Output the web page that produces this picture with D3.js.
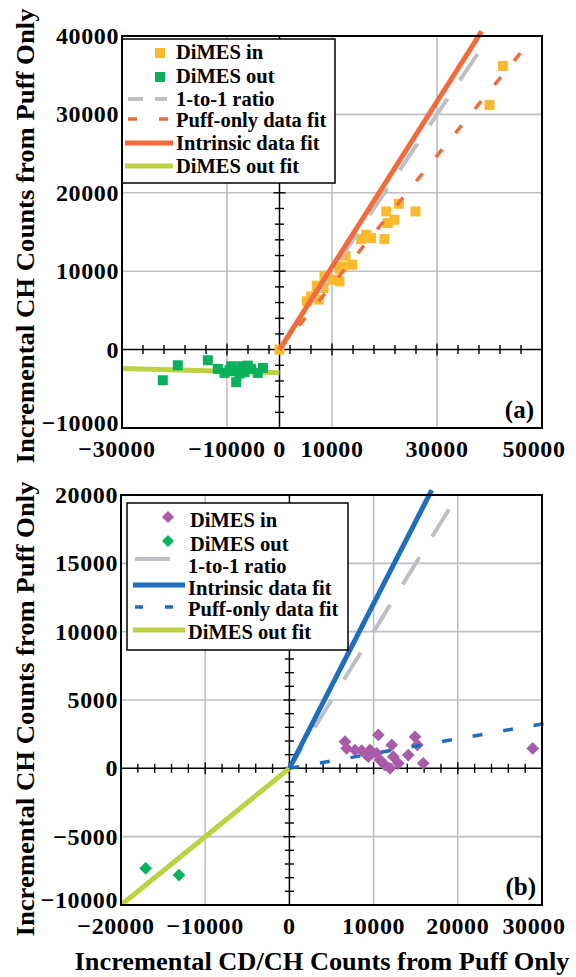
<!DOCTYPE html>
<html>
<head>
<meta charset="UTF-8" />
<script src="https://cdn.jsdelivr.net/npm/d3@7"></script>
<style>
  body { margin: 0; background: #fff; }
  svg text { font-family: "Liberation Serif", "Times New Roman", serif; font-weight: bold; fill: #000; }
</style>
</head>
<body>
<div id="chart"></div>
<script>
// ---- panel (a) data ----
const dimesInA = [[0, 0], [5200, 6160], [6030, 6790], [7490, 6370], [7110, 8150], [8380, 7860],
  [8570, 9340], [10100, 8920], [11430, 8700], [11430, 10320], [12060, 10610], [13900, 10830],
  [12570, 11970], [15560, 14100], [16510, 14650], [17460, 14230], [20000, 14100], [20630, 16140],
  [21900, 16560], [20320, 17620], [22730, 18600], [25900, 17620], [40000, 31210], [42540, 36180]];
const dimesOutA = [[-22230, -3910], [-19370, -2000], [-13650, -1360], [-11750, -2460], [-10480, -2970],
  [-9520, -2630], [-9200, -2120], [-8570, -2760], [-8250, -4160], [-7620, -3060], [-7300, -2120],
  [-6670, -2890], [-6030, -2040], [-5400, -2460], [-4130, -2970], [-3170, -2340]];
const oneToOneA = [[0, 0], [40000, 40000]];
const puffFitA = [[0, 0], [48400, 39900]];
const intrinsicFitA = [[0, 0], [38500, 40600]];
const outFitA = [[-30000, -2400], [0, -2950]];
const xTicksA = [-30000, -10000, 0, 10000, 30000, 50000];
const xGridA = [-10000, 10000, 30000];
const yTicksA = [-10000, 0, 10000, 20000, 30000, 40000];
const yGridA = [10000, 20000, 30000];

// ---- panel (b) data ----
const dimesInB = [[6600, 1950], [6800, 1460], [7790, 1340], [8580, 1290], [9570, 1340], [9370, 850],
  [10370, 1100], [10560, 2440], [10760, 610], [11350, 240], [11950, 0], [12150, 1710], [12340, 850],
  [12940, 370], [14120, 970], [14920, 2310], [15190, 1710], [15900, 370], [28900, 1460]];
const dimesOutB = [[-17070, -7320], [-13110, -7810]];
const oneToOneB = [[0, 0], [20000, 20000]];
const intrinsicFitB = [[0, 0], [16900, 20360]];
const puffFitB = [[0, 0], [30500, 3300]];
const outFitB = [[-20000, -10000], [0, 0]];
const xTicksB = [-20000, -10000, 0, 10000, 20000, 30000];
const xGridB = [-10000, 10000, 20000];
const yTicksB = [-10000, -5000, 0, 5000, 10000, 15000, 20000];
const yGridB = [-5000, 5000, 10000, 15000];

const C = {
  yellow: "#FBBA2D", green: "#0BB05C", orange: "#F26B3B", lime: "#BDD143",
  gray: "#BCC0C5", purple: "#A95BA9", blue: "#1F6DBF"
};

const svg = d3.select("#chart").append("svg")
  .attr("width", 576).attr("height", 977);

const fmt = d => d < 0 ? "\u2212" + Math.abs(d) : String(d);

function drawPanel(p) {
  const g = svg.append("g");
  const [x0, x1] = p.x.range(), [y0, y1] = p.y.range();  // y0 bottom, y1 top
  const line = d3.line().x(d => p.x(d[0])).y(d => p.y(d[1]));

  // grid
  g.selectAll(".gx").data(p.xGrid).join("line")
    .attr("x1", d => p.x(d)).attr("x2", d => p.x(d)).attr("y1", y1).attr("y2", y0)
    .attr("stroke", C.gray).attr("stroke-width", 1.6);
  g.selectAll(".gy").data(p.yGrid).join("line")
    .attr("y1", d => p.y(d)).attr("y2", d => p.y(d)).attr("x1", x0).attr("x2", x1)
    .attr("stroke", C.gray).attr("stroke-width", 1.6);

  // zero axes with crossing ticks
  const zx = p.x(0), zy = p.y(0);
  g.append("line").attr("x1", x0).attr("x2", x1).attr("y1", zy).attr("y2", zy)
    .attr("stroke", "#000").attr("stroke-width", 1.5);
  g.append("line").attr("x1", zx).attr("x2", zx).attr("y1", y1).attr("y2", y0)
    .attr("stroke", "#000").attr("stroke-width", 1.5);
  g.selectAll(".tx").data(p.xMinor).join("line")
    .attr("x1", d => p.x(d)).attr("x2", d => p.x(d))
    .attr("y1", d => zy - (p.xTicks.includes(d) ? 6 : 4.5))
    .attr("y2", d => zy + (p.xTicks.includes(d) ? 6 : 4.5))
    .attr("stroke", "#000").attr("stroke-width", 1.4);
  g.selectAll(".ty").data(p.yMinor).join("line")
    .attr("y1", d => p.y(d)).attr("y2", d => p.y(d))
    .attr("x1", d => zx - (p.yTicks.includes(d) ? 6 : 4.5))
    .attr("x2", d => zx + (p.yTicks.includes(d) ? 6 : 4.5))
    .attr("stroke", "#000").attr("stroke-width", 1.4);

  // DiMES out fit (behind points)
  g.append("path").datum(p.outFit).attr("d", line)
    .attr("fill", "none").attr("stroke", C.lime).attr("stroke-width", 5);

  // points
  if (p.marker === "square") {
    g.selectAll(".pin").data(p.dimesIn).join("rect")
      .attr("x", d => p.x(d[0]) - 5).attr("y", d => p.y(d[1]) - 5)
      .attr("width", 10).attr("height", 10).attr("fill", p.inColor);
    g.selectAll(".pout").data(p.dimesOut).join("rect")
      .attr("x", d => p.x(d[0]) - 5).attr("y", d => p.y(d[1]) - 5)
      .attr("width", 10).attr("height", 10).attr("fill", C.green);
  } else {
    const dia = (sel, data, col) => sel.selectAll(null).data(data).join("rect")
      .attr("x", -4.5).attr("y", -4.5).attr("width", 9).attr("height", 9)
      .attr("transform", d => `translate(${p.x(d[0])},${p.y(d[1])}) rotate(45)`)
      .attr("fill", col);
    dia(g.append("g"), p.dimesIn, p.inColor);
    dia(g.append("g"), p.dimesOut, C.green);
  }

  // fit lines
  g.append("path").datum(p.oneToOne).attr("d", line)
    .attr("fill", "none").attr("stroke", C.gray).attr("stroke-width", 4)
    .attr("stroke-dasharray", p.grayDash).attr("stroke-dashoffset", p.grayOffset);
  g.append("path").datum(p.puffFit).attr("d", line)
    .attr("fill", "none").attr("stroke", p.fitColor).attr("stroke-width", 3.5)
    .attr("stroke-dasharray", "10,21");
  g.append("path").datum(p.intrinsicFit).attr("d", line)
    .attr("fill", "none").attr("stroke", p.fitColor).attr("stroke-width", 5);

  // tick labels
  g.selectAll(".lx").data(p.xTicks).join("text")
    .attr("x", (d, i) => p.x(d) + (i === 0 ? -5 : i === p.xTicks.length - 1 ? -8 : 0))
    .attr("y", y0 + 29).attr("text-anchor", "middle")
    .attr("font-size", 24).attr("letter-spacing", 0.6).text(fmt);
  g.selectAll(".ly").data(p.yTicks).join("text")
    .attr("x", x0 - 3).attr("y", (d, i) => p.y(d) + (i === 0 ? 3 : 8)).attr("text-anchor", "end")
    .attr("font-size", 24).attr("letter-spacing", 0.6).text(fmt);

  // y title
  g.append("text")
    .attr("transform", `translate(34,${p.yTitleMid}) rotate(-90)`)
    .attr("text-anchor", "middle").attr("font-size", 26)
    .attr("textLength", 455).attr("lengthAdjust", "spacingAndGlyphs")
    .text("Incremental CH Counts from Puff Only");

  // legend
  const L = p.legend;
  g.append("rect").attr("x", L.x).attr("y", L.y).attr("width", L.w).attr("height", L.h)
    .attr("fill", "#fff").attr("stroke", "#000").attr("stroke-width", 1.5);
  L.items.forEach(it => {
    if (it.type === "square") {
      g.append("rect").attr("x", it.sx - 5).attr("y", it.sy - 5).attr("width", 10).attr("height", 10)
        .attr("fill", it.color);
    } else if (it.type === "diamond") {
      g.append("rect").attr("x", -4.3).attr("y", -4.3).attr("width", 8.6).attr("height", 8.6)
        .attr("transform", `translate(${it.sx},${it.sy}) rotate(45)`).attr("fill", it.color);
    } else {
      g.append("line").attr("x1", it.lx[0]).attr("x2", it.lx[1]).attr("y1", it.sy).attr("y2", it.sy)
        .attr("stroke", it.color).attr("stroke-width", it.width || 5)
        .attr("stroke-dasharray", it.dash || null);
    }
    g.append("text").attr("x", it.tx).attr("y", it.ty + 7).attr("font-size", 20.5).text(it.label);
  });

  // frame
  g.append("rect").attr("x", x0).attr("y", y1).attr("width", x1 - x0).attr("height", y0 - y1)
    .attr("fill", "none").attr("stroke", "#000").attr("stroke-width", 2);

  g.append("text").attr("x", p.tag[1]).attr("y", p.tag[2]).attr("text-anchor", "end")
    .attr("font-size", 25).text(p.tag[0]);
}

drawPanel({
  x: d3.scaleLinear().domain([-30000, 50000]).range([122, 542]),
  y: d3.scaleLinear().domain([-10000, 40000]).range([428, 36]),
  xTicks: xTicksA, xGrid: xGridA, xMinor: d3.range(-30000, 50001, 4000),
  yTicks: yTicksA, yGrid: yGridA, yMinor: d3.range(-10000, 40001, 2000),
  dimesIn: dimesInA, dimesOut: dimesOutA, marker: "square", inColor: C.yellow,
  oneToOne: oneToOneA, puffFit: puffFitA, intrinsicFit: intrinsicFitA, outFit: outFitA,
  fitColor: C.orange, grayDash: "32,22", grayOffset: 0,
  yTitleMid: 236,
  tag: ["(a)", 534, 418],
  legend: {
    x: 122, y: 39, w: 213, h: 144,
    items: [
      { type: "square", color: C.yellow, sx: 160, sy: 53, tx: 176, ty: 52, label: "DiMES in" },
      { type: "square", color: C.green, sx: 160, sy: 77, tx: 176, ty: 76, label: "DiMES out" },
      { type: "line", color: C.gray, lx: [128, 167], dash: "15,12", width: 4, sy: 99, tx: 176, ty: 99, label: "1-to-1 ratio" },
      { type: "line", color: C.orange, lx: [128, 168], dash: "9,22", width: 3.5, sy: 119, tx: 176, ty: 120, label: "Puff-only data fit" },
      { type: "line", color: C.orange, lx: [125, 173], width: 5, sy: 143, tx: 176, ty: 143, label: "Intrinsic data fit" },
      { type: "line", color: C.lime, lx: [125, 173], width: 5, sy: 166, tx: 176, ty: 166, label: "DiMES out fit" }
    ]
  }
});

drawPanel({
  x: d3.scaleLinear().domain([-20000, 30000]).range([121, 542]),
  y: d3.scaleLinear().domain([-10000, 20000]).range([905, 495]),
  xTicks: xTicksB, xGrid: xGridB, xMinor: d3.range(-20000, 30001, 2000),
  yTicks: yTicksB, yGrid: yGridB, yMinor: d3.range(-10000, 20001, 1000),
  dimesIn: dimesInB, dimesOut: dimesOutB, marker: "diamond", inColor: C.purple,
  oneToOne: oneToOneB, puffFit: puffFitB, intrinsicFit: intrinsicFitB, outFit: outFitB,
  fitColor: C.blue, grayDash: "32,24", grayOffset: -48,
  yTitleMid: 709,
  tag: ["(b)", 536, 895],
  legend: {
    x: 127, y: 503, w: 221, h: 147,
    items: [
      { type: "diamond", color: C.purple, sx: 168, sy: 517, tx: 190, ty: 520, label: "DiMES in" },
      { type: "diamond", color: C.green, sx: 168, sy: 541, tx: 190, ty: 544, label: "DiMES out" },
      { type: "line", color: C.gray, lx: [135, 170], width: 4, sy: 559, tx: 188, ty: 566, label: "1-to-1 ratio" },
      { type: "line", color: C.blue, lx: [133, 185], width: 5, sy: 585, tx: 188, ty: 588, label: "Intrinsic data fit" },
      { type: "line", color: C.blue, lx: [135, 173], dash: "8,22", width: 3.5, sy: 607, tx: 188, ty: 609, label: "Puff-only data fit" },
      { type: "line", color: C.lime, lx: [133, 185], width: 5, sy: 630, tx: 188, ty: 632, label: "DiMES out fit" }
    ]
  }
});

svg.append("text").attr("x", 322).attr("y", 970).attr("text-anchor", "middle")
  .attr("font-size", 25).attr("textLength", 495).attr("lengthAdjust", "spacingAndGlyphs")
  .text("Incremental CD/CH Counts from Puff Only");
</script>
</body>
</html>
